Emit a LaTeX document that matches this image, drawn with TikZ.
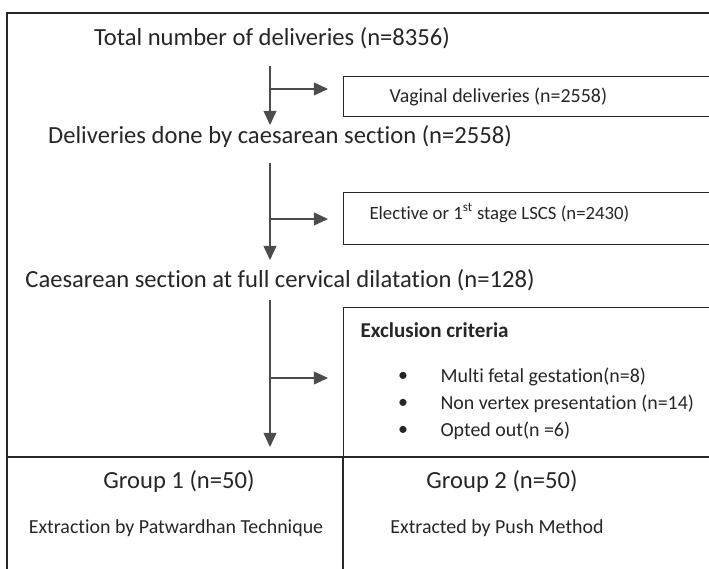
\documentclass[tikz,border=0pt]{standalone}
\usepackage{fontspec}
\setmainfont{Carlito}[Ligatures=NoCommon]
\usetikzlibrary{arrows.meta}

\begin{document}
\begin{tikzpicture}[x=0.03cm, y=-0.03cm, line width=1.1pt, color=black!85,
  big/.style={font=\fontsize{21}{25}\selectfont},
  small/.style={font=\fontsize{17}{20}\selectfont},
  outbox/.style={draw, anchor=north west, inner sep=0pt, minimum width=400*0.03cm},
  flow/.style={line width=0.9pt, black!70, -{Triangle[length=12pt,width=11pt]}}]
\useasboundingbox (0,0) rectangle (709,569);
% frame
\draw (7,569) -- (7,13) -- (709,13);
\draw (7,457) -- (709,457);
\draw (343,457) -- (343,569);
% main column
\node[big] (total) at (272,38) {Total number of deliveries (n=8356)};
\node[big] (cs) at (280,136) {Deliveries done by caesarean section (n=2558)};
\node[big] (full) at (280,280) {Caesarean section at full cervical dilatation (n=128)};
% side boxes
\node[outbox, minimum height=40*0.03cm] (vag) at (343,76) {};
\node[small, anchor=west] (vagtxt) at (385,97) {Vaginal deliveries (n=2558)};
\node[outbox, minimum height=52*0.03cm] (elec) at (343,192) {};
\node[anchor=west, font=\fontsize{16}{19}\selectfont] (electxt) at (365,213) {Elective or 1\textsuperscript{st} stage LSCS (n=2430)};
\node[outbox, minimum height=150*0.03cm] (excl) at (343,307) {};
\node[anchor=west, font=\fontsize{18}{21}\selectfont\bfseries] (excltitle) at (356,330) {Exclusion criteria};
\foreach \y/\t [count=\i] in {377/{Multi fetal gestation(n=8)},404/{Non vertex presentation (n=14)},431/{Opted out(n =6)}}{
  \node[small] (dot\i) at (403,\y) {\textbullet};
  \node[small, anchor=west] (item\i) at (436,\y) {\t};
}
% groups
\node[big] (g1) at (179,481) {Group 1 (n=50)};
\node[small] (g1txt) at (176,528) {Extraction by Patwardhan Technique};
\node[big] (g2) at (502,481) {Group 2 (n=50)};
\node[small] (g2txt) at (497,528) {Extracted by Push Method};
% arrows
\foreach \ya/\yb/\ym/\bx in {66/125/89/vag, 163/260/219/elec, 300/447/378/excl}{
  \coordinate (s\bx) at (270,\ya);
  \coordinate (e\bx) at (270,\yb);
  \coordinate (m\bx) at (270,\ym);
  \draw[flow] (s\bx) -- (e\bx);
  \draw[flow, shorten >=15*0.03cm] (m\bx) -- (\bx.west |- m\bx);
}
\end{tikzpicture}
\end{document}
